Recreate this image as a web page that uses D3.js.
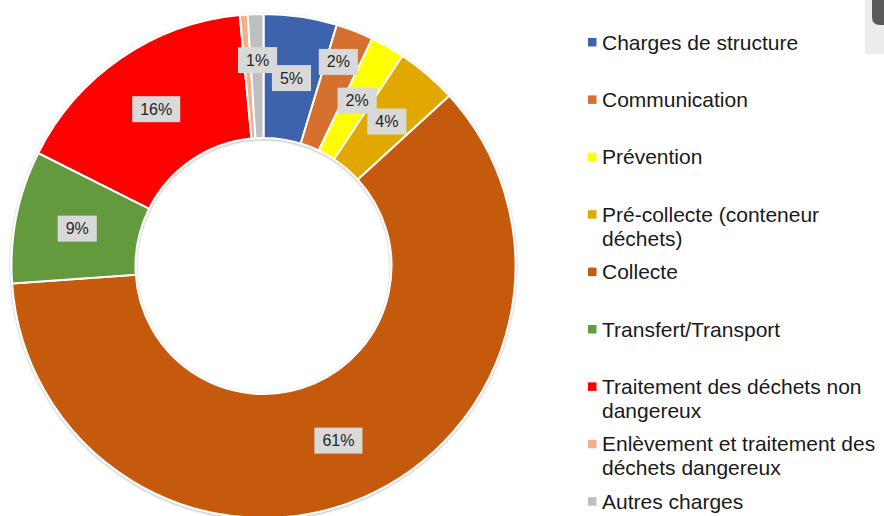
<!DOCTYPE html>
<html><head><meta charset="utf-8">
<script src="https://cdn.jsdelivr.net/npm/d3@7"></script>
<style>body{margin:0;background:#fff}svg{display:block}</style>
</head><body><svg id="c" width="884" height="516"></svg>
<script>
const categories = ["Charges de structure","Communication","Prévention","Pré-collecte (conteneur déchets)","Collecte","Transfert/Transport","Traitement des déchets non dangereux","Enlèvement et traitement des déchets dangereux","Autres charges"];
const values = [4.7, 2.4, 2.2, 3.9, 60.7, 8.5, 16.1, 0.5, 1.0];
const labels = ["5%","2%","2%","4%","61%","9%","16%","","1%"];
const colors = ["#3D64AC","#D5702D","#FFFF00","#E1A900","#C55A11","#629A3E","#FF0000","#F4AE8A","#BFBFBF"];

const svg = d3.select("#c");
const cx = 263.5, cy = 266, R = 252, r0 = 128;
const defs = svg.append("defs");
const f = defs.append("filter").attr("id","sh").attr("x","-10%").attr("y","-10%").attr("width","120%").attr("height","120%");
f.append("feDropShadow").attr("dx",0).attr("dy",0.8).attr("stdDeviation",1.2).attr("flood-color","#000").attr("flood-opacity",0.35);

// top-right decoration
svg.append("rect").attr("x",865).attr("y",0).attr("width",19).attr("height",54).attr("fill","#ececec");
svg.append("path").attr("d","M872,0 H884 V25 H880 Q872,25 872,17 Z").attr("fill","#5a5a5a");

const g = svg.append("g").attr("transform",`translate(${cx},${cy})`);
const pie = d3.pie().sort(null).value(d=>d.v);
const data = categories.map((c,i)=>({c, v:values[i], l:labels[i], col:colors[i]}));
const arcs = pie(data);
const arc = d3.arc().innerRadius(r0).outerRadius(R);
const mid = d3.arc().innerRadius((R+r0)/2).outerRadius((R+r0)/2);

g.append("g").attr("filter","url(#sh)").selectAll("path").data(arcs).join("path")
  .attr("d",arc).attr("fill",d=>d.data.col).attr("stroke","#fff").attr("stroke-width",2).attr("stroke-linejoin","round");

// label nudges to avoid overlap (layout only)
const nudge = {"Communication":[6,-27],"Autres charges":[0,-16]};
const lg = g.append("g");
arcs.forEach(a=>{
  if(!a.data.l) return;
  let [x,y] = mid.centroid(a);
  const n = nudge[a.data.c]; if(n){x+=n[0];y+=n[1];}
  const t = lg.append("text").attr("x",x).attr("y",y).attr("text-anchor","middle").attr("dominant-baseline","central")
    .attr("font-family","Liberation Sans, Arial, sans-serif").attr("font-size",16).attr("fill","#262626").text(a.data.l);
  const w = t.node().getComputedTextLength()+16;
  lg.insert("rect","text").attr("x",x-w/2).attr("y",y-13).attr("width",w).attr("height",26).attr("fill","#D9D9D9");
});
// bring texts above rects
lg.selectAll("text").raise();

// legend
const leg = svg.append("g");
const lx = 602, ly0 = 42, step = 57.4, lh = 24, maxW = 280;
data.forEach((d,i)=>{
  const y = ly0 + i*step;
  leg.append("rect").attr("x",588).attr("y",y-4).attr("width",8.5).attr("height",8.5).attr("fill",d.col);
  const t = leg.append("text").attr("font-family","Liberation Sans, Arial, sans-serif").attr("font-size",21).attr("fill","#1a1a1a");
  const words = d.c.split(" ");
  let line = [], ln = 0;
  let ts = t.append("tspan").attr("x",lx).attr("y",y).attr("dominant-baseline","central");
  words.forEach(w=>{
    line.push(w); ts.text(line.join(" "));
    if(ts.node().getComputedTextLength() > maxW && line.length>1){
      line.pop(); ts.text(line.join(" ")); line=[w]; ln++;
      ts = t.append("tspan").attr("x",lx).attr("y",y+ln*lh).attr("dominant-baseline","central").text(w);
    }
  });
});
</script></body></html>
